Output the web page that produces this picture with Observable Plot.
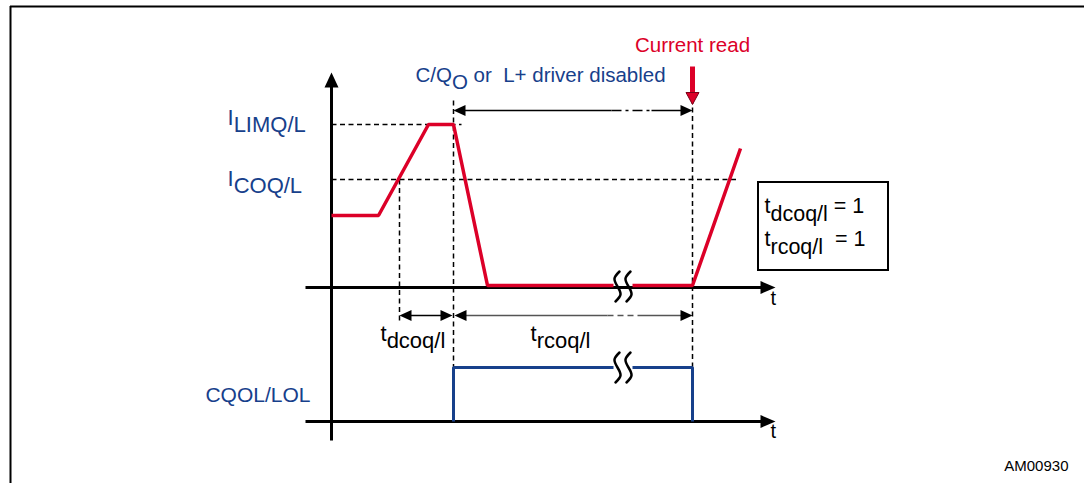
<!DOCTYPE html>
<html>
<head>
<meta charset="utf-8">
<script src="https://cdn.jsdelivr.net/npm/d3@7"></script>
<script src="https://cdn.jsdelivr.net/npm/@observablehq/plot@0.6"></script>
<style>
  html, body { margin: 0; padding: 0; background: #fff; overflow: hidden; }
  #chart { width: 1084px; height: 483px; }
</style>
</head>
<body>
<div id="chart"></div>
<script>
// ---------------- DATA (schematic units: time t, level v) ----------------
// Red trace: current on C/Q or L+ (upper panel)
const redTime    = [0, 4.7, 9.7, 12.2, 15.6, 28.2, 30.1, 36.1, 40.9];
const redLevel   = [7.2, 7.2, 16.3, 16.3, 0.2, 0.2, 0.2, 0.2, 13.9];
const redSegment = [0, 0, 0, 0, 0, 0, 1, 1, 1];

// Blue trace: CQOL/LOL status flag (lower panel)
const flagTime    = [12.2, 12.2, 28.2, 30.1, 36.1, 36.1];
const flagLevel   = [0, 5.4, 5.4, 5.4, 5.4, 0];
const flagSegment = [0, 0, 0, 1, 1, 1];

// Current thresholds
const thresholdNames  = ["I_{LIMQ/L}", "I_{COQ/L}"];
const thresholdLevels = [16.3, 10.8];
const thresholdEnds   = [13.0, 40.7];

// Event times
const tCross   = 6.8;   // crossing of I_COQ/L
const tDisable = 12.2;  // driver disabled
const tRead    = 36.1;  // current read
const tBreak   = [28.6, 29.7];

// Texts
const headerText   = "C/Q_{O} or  L+ driver disabled";
const readText     = "Current read";
const flagName     = "CQOL/LOL";
const intervalText = ["t_{dcoq/l}", "t_{rcoq/l}"];
const boxLines     = ["t_{dcoq/l} = 1", "t_{rcoq/l}  = 1"];
const axisName     = "t";
const figureId     = "AM00930";

// ---------------- LAYOUT ----------------
const upperBase = 13.4;          // upper panel baseline in diagram units
const U = v => upperBase + v;
const RED = "#dc0028", NAVY = "#17408b", GREY = "#555";
const dash = "5,3.5";

function head(len, half, dir) {
  const p = {
    up:    [[0,0],[-half,len],[half,len]],
    down:  [[0,0],[-half,-len],[half,-len]],
    right: [[0,0],[-len,-half],[-len,half]],
    left:  [[0,0],[len,-half],[len,half]]
  }[dir];
  return { draw(ctx) { ctx.moveTo(...p[0]); ctx.lineTo(...p[1]); ctx.lineTo(...p[2]); ctx.closePath(); } };
}

const redData  = redTime.map((t, i) => ({t, v: U(redLevel[i]), z: redSegment[i]}));
const flagData = flagTime.map((t, i) => ({t, v: flagLevel[i], z: flagSegment[i]}));

// break glyph (px offsets -> units)
const glyph = [[2,-15],[-3,-8],[0,0],[3,8],[-2,15]];
function breakPts(cy) {
  const out = [];
  tBreak.forEach((cx, k) => glyph.forEach(([dx, dy]) => out.push({t: cx + dx/10, v: cy - dy/10, z: k})));
  return out;
}

const dashedLinks = [
  ...thresholdLevels.map((lv, i) => ({x1: 0, x2: thresholdEnds[i], y1: U(lv), y2: U(lv)})),
  {x1: tCross, x2: tCross, y1: U(thresholdLevels[1]), y2: 9.9},
  {x1: tDisable, x2: tDisable, y1: 32.1, y2: 0},
  {x1: tRead, x2: tRead, y1: 33.1, y2: 0.2}
];

const axisLinks = [
  {x1: -2.6, x2: 43.6, y1: upperBase, y2: upperBase},
  {x1: -2.6, x2: 43.6, y1: 0, y2: 0},
  {x1: 0, x2: 0, y1: -1.9, y2: 34.0}
];
const axisHeadsRight = [{t: 44.4, v: upperBase}, {t: 44.4, v: 0}];
const axisHeadsUp = [{t: 0, v: 34.9}];

const topArrowY = 31.1, spanY = 10.6;
const blackSolid = [
  {x1: tDisable + 0.8, x2: 28.0, y1: topArrowY, y2: topArrowY},
  {x1: 32.0, x2: tRead - 0.8, y1: topArrowY, y2: topArrowY},
  {x1: tCross + 0.8, x2: tDisable - 0.8, y1: spanY, y2: spanY}
];
const blackDashed = [{x1: 28.0, x2: 32.0, y1: topArrowY, y2: topArrowY}];
const greySolid = [
  {x1: tDisable + 0.8, x2: 27.6, y1: spanY, y2: spanY},
  {x1: 30.6, x2: tRead - 0.8, y1: spanY, y2: spanY}
];
const greyDashed = [{x1: 27.6, x2: 30.6, y1: spanY, y2: spanY}];
const arrowLeft = [{t: tDisable, v: topArrowY}, {t: tCross, v: spanY}, {t: tDisable + 0.1, v: spanY}];
const arrowRight = [{t: tRead, v: topArrowY}, {t: tDisable - 0.1, v: spanY}, {t: tRead, v: spanY}];

const texts = [
  {t: tRead, v: 37.6, text: readText, fill: RED, anchor: "middle", size: 20.5},
  {t: 8.4, v: 34.6, text: headerText, fill: NAVY, anchor: "start", size: 20.5},
  {t: -10.4, v: U(thresholdLevels[0]) + 0.7, text: thresholdNames[0], fill: NAVY, anchor: "start", size: 22},
  {t: -10.4, v: U(thresholdLevels[1]) + 0.1, text: thresholdNames[1], fill: NAVY, anchor: "start", size: 22},
  {t: -2.1, v: 2.6, text: flagName, fill: NAVY, anchor: "end", size: 21},
  {t: 43.9, v: 12.3, text: axisName, fill: "black", anchor: "start", size: 20},
  {t: 43.9, v: -1.0, text: axisName, fill: "black", anchor: "start", size: 20},
  {t: 4.9, v: 8.8, text: intervalText[0], fill: "black", anchor: "start", size: 22},
  {t: 19.9, v: 8.8, text: intervalText[1], fill: "black", anchor: "start", size: 22},
  {t: 43.3, v: 21.5, text: boxLines[0], fill: "black", anchor: "start", size: 21.5},
  {t: 43.3, v: 18.2, text: boxLines[1], fill: "black", anchor: "start", size: 21.5},
  {t: 73.7, v: -4.5, text: figureId, fill: "black", anchor: "end", size: 15}
];
const textMark = anchor => Plot.text(texts.filter(d => d.anchor === anchor),
  {x: "t", y: "v", text: "text", fill: "fill", textAnchor: anchor, fontSize: "size"});

const chart = Plot.plot({
  width: 1084, height: 483, margin: 0,
  x: {domain: [-33.1, 75.3], axis: null},
  y: {domain: [-6.2, 42.1], axis: null},
  style: {fontFamily: "'Liberation Sans', Arial, sans-serif", background: "white", overflow: "visible"},
  marks: [
    // frame
    Plot.ruleX([-32.1], {y1: -6.2, y2: 41.5, stroke: "black", strokeWidth: 2}),
    Plot.ruleY([41.5], {x1: -32.1, x2: 75.3, stroke: "black", strokeWidth: 2}),
    // dashed guides
    Plot.link(dashedLinks, {x1: "x1", x2: "x2", y1: "y1", y2: "y2", stroke: "black", strokeWidth: 1.5, strokeDasharray: dash}),
    // axes
    Plot.link(axisLinks, {x1: "x1", x2: "x2", y1: "y1", y2: "y2", stroke: "black", strokeWidth: 3}),
    Plot.dot(axisHeadsRight, {x: "t", y: "v", symbol: head(15, 6.5, "right"), r: 1, fill: "black"}),
    Plot.dot(axisHeadsUp, {x: "t", y: "v", symbol: head(15, 7, "up"), r: 1, fill: "black"}),
    // signals
    Plot.line(redData, {x: "t", y: "v", z: "z", stroke: RED, strokeWidth: 3.5, strokeLinejoin: "miter", strokeLinecap: "butt"}),
    Plot.line(flagData, {x: "t", y: "v", z: "z", stroke: NAVY, strokeWidth: 3, strokeLinejoin: "miter", strokeLinecap: "butt"}),
    Plot.line(breakPts(U(0.1)), {x: "t", y: "v", z: "z", curve: "natural", stroke: "black", strokeWidth: 2.5}),
    Plot.line(breakPts(5.4), {x: "t", y: "v", z: "z", curve: "natural", stroke: "black", strokeWidth: 2.5}),
    // interval arrows
    Plot.link(blackSolid, {x1: "x1", x2: "x2", y1: "y1", y2: "y2", stroke: "black", strokeWidth: 1.6}),
    Plot.link(blackDashed, {x1: "x1", x2: "x2", y1: "y1", y2: "y2", stroke: "black", strokeWidth: 1.6, strokeDasharray: "10,4,3,4"}),
    Plot.link(greySolid, {x1: "x1", x2: "x2", y1: "y1", y2: "y2", stroke: GREY, strokeWidth: 1.6}),
    Plot.link(greyDashed, {x1: "x1", x2: "x2", y1: "y1", y2: "y2", stroke: GREY, strokeWidth: 1.6, strokeDasharray: "6,4"}),
    Plot.dot(arrowLeft, {x: "t", y: "v", symbol: head(12, 5.5, "left"), r: 1, fill: "black"}),
    Plot.dot(arrowRight, {x: "t", y: "v", symbol: head(12, 5.5, "right"), r: 1, fill: "black"}),
    // current read arrow
    Plot.link([{x1: tRead, x2: tRead, y1: 35.5, y2: 32.6}], {x1: "x1", x2: "x2", y1: "y1", y2: "y2", stroke: RED, strokeWidth: 5}),
    Plot.dot([{t: tRead, v: 31.7}], {x: "t", y: "v", symbol: head(12, 6.5, "down"), r: 1, fill: RED, stroke: "#7a0016", strokeWidth: 1}),
    // parameter box
    Plot.rect([{x1: 42.7, x2: 55.7, y1: 15.1, y2: 23.9}], {x1: "x1", x2: "x2", y1: "y1", y2: "y2", fill: "white", stroke: "black", strokeWidth: 2}),
    // texts
    textMark("start"), textMark("middle"), textMark("end")
  ]
});

// subscripts: turn "_{...}" into lowered tspans
d3.select(chart).selectAll("text").each(function() {
  const s = this.textContent;
  if (!s.includes("_{")) return;
  const parts = s.split(/(_\{[^}]*\})/).filter(p => p);
  this.textContent = "";
  let down = false;
  for (const p of parts) {
    const ts = document.createElementNS("http://www.w3.org/2000/svg", "tspan");
    if (p.startsWith("_{")) {
      ts.textContent = p.slice(2, -1);
      ts.setAttribute("dy", "0.36em");
      down = true;
    } else {
      ts.textContent = p;
      if (down) { ts.setAttribute("dy", "-0.36em"); down = false; }
    }
    this.appendChild(ts);
  }
});

document.getElementById("chart").appendChild(chart);
</script>
</body>
</html>
